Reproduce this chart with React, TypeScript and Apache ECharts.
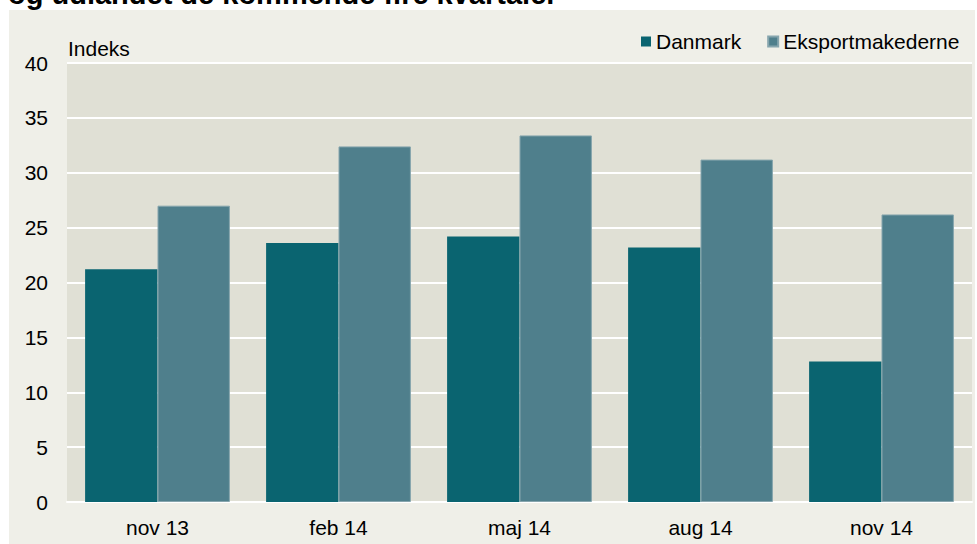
import React, { useEffect, useRef } from "react";
import * as echarts from "echarts";

const categories = ["nov 13", "feb 14", "maj 14", "aug 14", "nov 14"];
const danmark = [21.2, 23.6, 24.2, 23.2, 12.8];
const eksport = [27.0, 32.4, 33.4, 31.2, 26.2];
const seriesNames = ["Danmark", "Eksportmakederne"];
const titleText = "og udlandet de kommende fire kvartaler";
const unitLabel = "Indeks";

export default function App() {
  const ref = useRef<HTMLDivElement>(null);
  useEffect(() => {
    const chart = echarts.init(ref.current!, null, { renderer: "svg" });
    const font = "'Liberation Sans', Arial, sans-serif";
    chart.setOption({
      animation: false,
      backgroundColor: "#ffffff",
      textStyle: { fontFamily: font },
      graphic: [
        {
          type: "rect",
          z: -10,
          shape: { x: 9, y: 10, width: 966, height: 534 },
          style: { fill: "#efefe8" },
        },
        {
          type: "text",
          x: 8,
          y: -21,
          style: {
            text: titleText,
            font: `bold 29px ${font}`,
            fill: "#000",
          },
        },
        {
          type: "text",
          x: 68,
          y: 48,
          style: {
            text: unitLabel,
            font: `21px ${font}`,
            fill: "#000",
            textVerticalAlign: "middle",
          },
        },
      ],
      legend: {
        data: seriesNames,
        left: 636,
        top: 26,
        icon: "rect",
        itemWidth: 10,
        itemHeight: 10,
        itemGap: 26,
        textStyle: { fontSize: 21, color: "#000", fontFamily: font },
      },
      grid: {
        left: 67,
        right: 5,
        top: 63,
        bottom: 42,
        show: true,
        backgroundColor: "#e0e0d5",
        borderWidth: 0,
      },
      xAxis: {
        type: "category",
        data: categories,
        axisLine: { show: true, lineStyle: { color: "#ffffff", width: 2 } },
        axisTick: { show: false },
        axisLabel: { fontSize: 21, color: "#000", margin: 15, fontFamily: font },
      },
      yAxis: {
        type: "value",
        min: 0,
        max: 40,
        interval: 5,
        axisLine: { show: false },
        axisTick: { show: false },
        axisLabel: { fontSize: 21, color: "#000", margin: 19, fontFamily: font },
        splitLine: { show: true, lineStyle: { color: "#ffffff", width: 2 } },
      },
      series: [
        {
          name: seriesNames[0],
          type: "bar",
          data: danmark,
          barGap: "0%",
          barCategoryGap: "20%",
          itemStyle: { color: "#0a6470" },
        },
        {
          name: seriesNames[1],
          type: "bar",
          data: eksport,
          barGap: "0%",
          barCategoryGap: "20%",
          itemStyle: { color: "#4f7f8c", borderColor: "#86a5ad", borderWidth: 1 },
        },
      ],
    });
    return () => chart.dispose();
  }, []);
  return (
    <div
      ref={ref}
      style={{ position: "fixed", left: 0, top: 0, width: 977, height: 544 }}
    />
  );
}
